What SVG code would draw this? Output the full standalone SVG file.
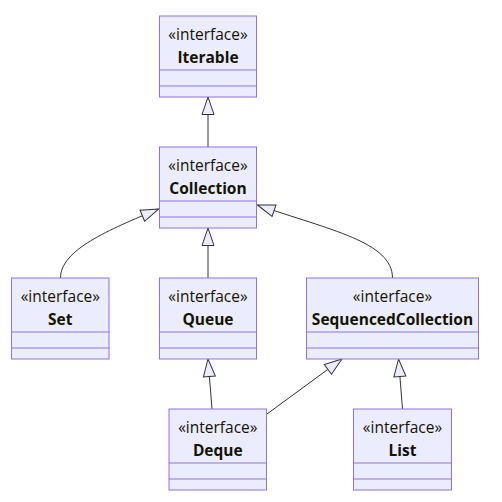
<svg xmlns="http://www.w3.org/2000/svg" width="502" height="502" viewBox="0 0 502 502">
<style>
.box{fill:#ECECFF;stroke:#9370DB;stroke-width:1}
.sep{stroke:#9370DB;stroke-width:1}
.st{font-family:"Open Sans","Liberation Sans",sans-serif;font-size:15.5px;fill:#131300;text-anchor:middle}
.nm{font-family:"Open Sans","Liberation Sans",sans-serif;font-size:15.5px;font-weight:bold;fill:#131300;text-anchor:middle}
.edge{fill:none;stroke:#333;stroke-width:1}
</style>
<defs>
<marker id="ext" viewBox="0 0 19 14" refX="18.5" refY="7" markerWidth="19" markerHeight="14" markerUnits="userSpaceOnUse" orient="auto">
<path d="M18.5,7 L1,1 L1,13 Z" fill="#ECECFF" stroke="#333" stroke-width="1"/>
</marker>
</defs>
<rect width="502" height="502" fill="#fff"/>
<g id="connectors">
<path class="edge" d="M208,147 L208,97" marker-end="url(#ext)"/>
<path class="edge" d="M60.5,278 C60.5,250 108,230 158.5,209" marker-end="url(#ext)"/>
<path class="edge" d="M208,278 L208,228" marker-end="url(#ext)"/>
<path class="edge" d="M392.5,278 C392.5,242 330,230 257.5,205" marker-end="url(#ext)"/>
<path class="edge" d="M212,409 L208,359" marker-end="url(#ext)"/>
<path class="edge" d="M267,414 L342,359" marker-end="url(#ext)"/>
<path class="edge" d="M402.5,409 L398.5,359" marker-end="url(#ext)"/>
</g>
<g id="Iterable">
<rect class="box" x="159.5" y="16" width="97" height="81"/>
<line class="sep" x1="159.5" y1="70" x2="256.5" y2="70"/>
<line class="sep" x1="159.5" y1="86" x2="256.5" y2="86"/>
<text class="st" x="208" y="40">«interface»</text>
<text class="nm" x="208" y="62.5">Iterable</text>
</g>
<g id="Collection">
<rect class="box" x="159.5" y="147" width="97" height="81"/>
<line class="sep" x1="159.5" y1="201" x2="256.5" y2="201"/>
<line class="sep" x1="159.5" y1="217" x2="256.5" y2="217"/>
<text class="st" x="208" y="171">«interface»</text>
<text class="nm" x="208" y="193.5">Collection</text>
</g>
<g id="Set">
<rect class="box" x="11.5" y="278" width="97.5" height="81"/>
<line class="sep" x1="11.5" y1="332" x2="109" y2="332"/>
<line class="sep" x1="11.5" y1="348" x2="109" y2="348"/>
<text class="st" x="60.3" y="302">«interface»</text>
<text class="nm" x="60.3" y="324.5">Set</text>
</g>
<g id="Queue">
<rect class="box" x="159.5" y="278" width="97" height="81"/>
<line class="sep" x1="159.5" y1="332" x2="256.5" y2="332"/>
<line class="sep" x1="159.5" y1="348" x2="256.5" y2="348"/>
<text class="st" x="208" y="302">«interface»</text>
<text class="nm" x="208" y="324.5">Queue</text>
</g>
<g id="SequencedCollection">
<rect class="box" x="306.5" y="278" width="172" height="81"/>
<line class="sep" x1="306.5" y1="332" x2="478.5" y2="332"/>
<line class="sep" x1="306.5" y1="348" x2="478.5" y2="348"/>
<text class="st" x="392.5" y="302">«interface»</text>
<text class="nm" x="392.5" y="324.5">SequencedCollection</text>
</g>
<g id="Deque">
<rect class="box" x="169" y="409" width="97.5" height="81"/>
<line class="sep" x1="169" y1="463" x2="266.5" y2="463"/>
<line class="sep" x1="169" y1="479" x2="266.5" y2="479"/>
<text class="st" x="217.8" y="433">«interface»</text>
<text class="nm" x="217.8" y="455.5">Deque</text>
</g>
<g id="List">
<rect class="box" x="353.5" y="409" width="98" height="81"/>
<line class="sep" x1="353.5" y1="463" x2="451.5" y2="463"/>
<line class="sep" x1="353.5" y1="479" x2="451.5" y2="479"/>
<text class="st" x="402.5" y="433">«interface»</text>
<text class="nm" x="402.5" y="455.5">List</text>
</g>
</svg>
